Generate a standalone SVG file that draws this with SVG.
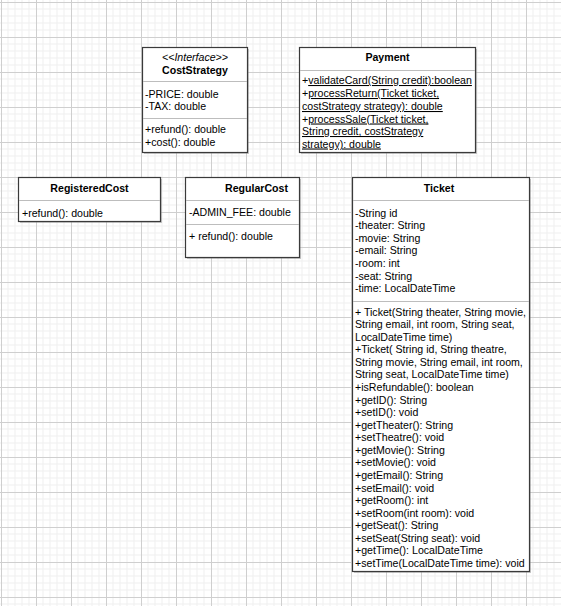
<svg xmlns="http://www.w3.org/2000/svg" width="561" height="606" viewBox="0 0 561 606">
  <style>
    text { font-family: "Liberation Sans", Arial, Helvetica, sans-serif; font-size: 10.6px; fill: #000; }
    .title { font-weight: bold; text-anchor: middle; }
    .stereo { font-style: italic; text-anchor: middle; }
    .box { fill: #fff; stroke: #3a3a3a; stroke-width: 1.2; }
    .shadow { fill: #8a8a8a; opacity: 0.45; }
    .sep { stroke: #bdbdbd; stroke-width: 1; }
    .u { text-decoration: underline; }
  </style>
  <defs>
    <pattern id="grid" x="1" y="2" width="35" height="35" patternUnits="userSpaceOnUse">
      <path d="M7 0V35M14 0V35M21 0V35M28 0V35M0 7H35M0 14H35M0 21H35M0 28H35" stroke="#efefef" stroke-width="1" fill="none"/>
      <path d="M0.5 0V35M0 0.5H35" stroke="#cfcfcf" stroke-width="1" fill="none"/>
    </pattern>
  </defs>

  <!-- canvas grid -->
  <rect x="0" y="0" width="561" height="606" fill="#fff"/>
  <rect x="0" y="0" width="561" height="606" fill="url(#grid)"/>

  <!-- CostStrategy interface -->
  <g id="CostStrategy">
    <rect class="shadow" x="144" y="49" width="105" height="105"/>
    <rect class="box" x="142.5" y="47.5" width="105" height="105"/>
    <text class="stereo" x="195" y="61">&lt;&lt;Interface&gt;&gt;</text>
    <text class="title" x="195" y="74">CostStrategy</text>
    <line class="sep" x1="143" y1="81.5" x2="247" y2="81.5"/>
    <text x="145" y="97.5">-PRICE: double</text>
    <text x="145" y="110">-TAX: double</text>
    <line class="sep" x1="143" y1="118.5" x2="247" y2="118.5"/>
    <text x="145" y="133">+refund(): double</text>
    <text x="145" y="146">+cost(): double</text>
  </g>

  <!-- Payment -->
  <g id="Payment">
    <rect class="shadow" x="301" y="49" width="176" height="105"/>
    <rect class="box" x="299.5" y="47.5" width="176" height="105"/>
    <text class="title" x="387.5" y="61">Payment</text>
    <line class="sep" x1="300" y1="70.5" x2="475" y2="70.5"/>
    <text x="302" y="84">+<tspan class="u">validateCard(String credit):boolean</tspan></text>
    <text x="302" y="97">+<tspan class="u">processReturn(Ticket ticket,</tspan></text>
    <text x="302" y="110" class="u">costStrategy strategy): double</text>
    <text x="302" y="122.5">+<tspan class="u">processSale(Ticket ticket,</tspan></text>
    <text x="302" y="135" class="u">String credit, costStrategy</text>
    <text x="302" y="147.5" class="u">strategy): double</text>
  </g>

  <!-- RegisteredCost -->
  <g id="RegisteredCost">
    <rect class="shadow" x="20" y="179" width="142" height="44"/>
    <rect class="box" x="18.5" y="177.5" width="142" height="44"/>
    <text class="title" x="89.5" y="191.5">RegisteredCost</text>
    <line class="sep" x1="19" y1="200.5" x2="160" y2="200.5"/>
    <text x="22" y="216.5">+refund(): double</text>
  </g>

  <!-- RegularCost -->
  <g id="RegularCost">
    <rect class="shadow" x="187" y="179" width="114" height="80"/>
    <rect class="box" x="185.5" y="177.5" width="114" height="80"/>
    <text x="225" y="191.5" style="font-weight:bold">RegularCost</text>
    <line class="sep" x1="186" y1="200.5" x2="299" y2="200.5"/>
    <text x="189" y="216">-ADMIN_FEE: double</text>
    <line class="sep" x1="186" y1="224.5" x2="299" y2="224.5"/>
    <text x="189" y="239.5">+ refund(): double</text>
  </g>

  <!-- Ticket -->
  <g id="Ticket">
    <rect class="shadow" x="354" y="179" width="177" height="394"/>
    <rect class="box" x="352.5" y="177.5" width="177" height="394"/>
    <text class="title" x="439" y="191.5">Ticket</text>
    <line class="sep" x1="353" y1="200.5" x2="529" y2="200.5"/>
    <text x="355" y="216.5">-String id</text>
    <text x="355" y="229">-theater: String</text>
    <text x="355" y="241.7">-movie: String</text>
    <text x="355" y="254.3">-email: String</text>
    <text x="355" y="267">-room: int</text>
    <text x="355" y="279.5">-seat: String</text>
    <text x="355" y="292">-time: LocalDateTime</text>
    <line class="sep" x1="353" y1="301.5" x2="529" y2="301.5"/>
    <text x="355" y="315.5">+ Ticket(String theater, String movie,</text>
    <text x="355" y="328.1">String email, int room, String seat,</text>
    <text x="355" y="340.6">LocalDateTime time)</text>
    <text x="355" y="353.2">+Ticket( String id, String theatre,</text>
    <text x="355" y="365.8">String movie, String email, int room,</text>
    <text x="355" y="378.4">String seat, LocalDateTime time)</text>
    <text x="355" y="390.9">+isRefundable(): boolean</text>
    <text x="355" y="403.5">+getID(): String</text>
    <text x="355" y="416.1">+setID(): void</text>
    <text x="355" y="428.6">+getTheater(): String</text>
    <text x="355" y="441.2">+setTheatre(): void</text>
    <text x="355" y="453.8">+getMovie(): String</text>
    <text x="355" y="466.3">+setMovie(): void</text>
    <text x="355" y="478.9">+getEmail(): String</text>
    <text x="355" y="491.5">+setEmail(): void</text>
    <text x="355" y="504.1">+getRoom(): int</text>
    <text x="355" y="516.6">+setRoom(int room): void</text>
    <text x="355" y="529.2">+getSeat(): String</text>
    <text x="355" y="541.8">+setSeat(String seat): void</text>
    <text x="355" y="554.3">+getTime(): LocalDateTime</text>
    <text x="355" y="566.9">+setTime(LocalDateTime time): void</text>
  </g>

  <!-- no associations are drawn between the classes -->
  <g id="connectors"/>
</svg>
